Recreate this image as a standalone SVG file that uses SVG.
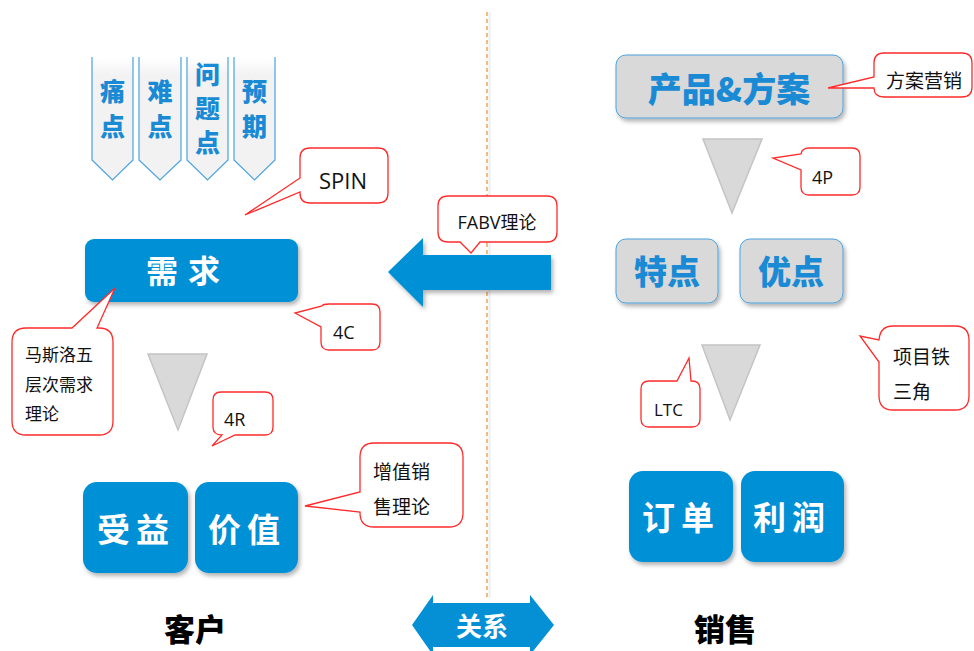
<svg xmlns="http://www.w3.org/2000/svg" width="974" height="651" viewBox="0 0 974 651">
<defs>
<filter id="sh" x="-10%" y="-10%" width="130%" height="140%"><feDropShadow dx="2" dy="3" stdDeviation="2" flood-color="#000" flood-opacity="0.3"/></filter>
<linearGradient id="tabg" x1="0" y1="0" x2="0" y2="1"><stop offset="0" stop-color="#fff"/><stop offset="0.15" stop-color="#f2f2f2"/><stop offset="1" stop-color="#f2f2f2"/></linearGradient>
</defs>
<style>
.tab{fill:url(#tabg)}
.tabl{fill:none;stroke:#4aa3df;stroke-width:1.2}
.tabt{font-family:"Noto Sans CJK SC",sans-serif;font-weight:900;font-size:25px;fill:#1a8ad4;text-anchor:middle}
.call{fill:#fff;stroke:#ff2a2a;stroke-width:1.3}
.ct{font-family:"Open Sans","Noto Sans CJK SC",sans-serif;font-size:18px;fill:#111}
.cc{font-family:"Noto Sans CJK SC",sans-serif;font-size:19px;fill:#111}
.blue{fill:#0590d6;filter:url(#sh)}
.gray{fill:#d9d9d9;stroke:#4aa3df;stroke-width:1;filter:url(#sh)}
.wt{font-family:"Noto Sans CJK SC",sans-serif;font-weight:bold;fill:#fff;text-anchor:middle}
.bt{font-family:"Noto Sans CJK SC",sans-serif;font-weight:900;fill:#1a8ad4;text-anchor:middle}
.tri{fill:#d9d9d9;stroke:#c4c4c4;stroke-width:1.5}
.kt{font-family:"Noto Sans CJK SC",sans-serif;font-weight:900;fill:#000;font-size:31px;text-anchor:middle}
</style>
<rect width="974" height="651" fill="#fff"/>

<g id="divider">
<line x1="489.5" y1="12" x2="489.5" y2="598" stroke="#eeeeee" stroke-width="2"/>
<line x1="487" y1="12" x2="487" y2="598" stroke="#f0963c" stroke-width="1.3" stroke-dasharray="4 3"/>
</g>

<g id="tabs">
<g id="tab1"><path class="tab" d="M92,57 H133 V160 L112.5,180 L92,160 Z"/><path class="tabl" d="M92,57 V160 L112.5,180 L133,160 V57"/><text class="tabt" x="112.5" y="101">痛</text><text class="tabt" x="112.5" y="136">点</text></g>
<g id="tab2"><path class="tab" d="M139,57 H181 V160 L160,180 L139,160 Z"/><path class="tabl" d="M139,57 V160 L160,180 L181,160 V57"/><text class="tabt" x="160" y="101">难</text><text class="tabt" x="160" y="136">点</text></g>
<g id="tab3"><path class="tab" d="M187,57 H228 V160 L207.5,180 L187,160 Z"/><path class="tabl" d="M187,57 V160 L207.5,180 L228,160 V57"/><text class="tabt" x="207.5" y="84">问</text><text class="tabt" x="207.5" y="118">题</text><text class="tabt" x="207.5" y="152">点</text></g>
<g id="tab4"><path class="tab" d="M234,57 H275 V160 L254.5,180 L234,160 Z"/><path class="tabl" d="M234,57 V160 L254.5,180 L275,160 V57"/><text class="tabt" x="254.5" y="101">预</text><text class="tabt" x="254.5" y="136">期</text></g>
</g>

<g id="connectors">
<path id="bigarrow" d="M388,272 L423,238 V255 H551 V290 H423 V307 Z" fill="#0590d6" filter="url(#sh)"/>
<polygon class="tri" points="148,354 207,354 178,430"/>
<polygon class="tri" points="703,139 762,139 732,213"/>
<polygon class="tri" points="702,345 760,345 730,420"/>
</g>

<g id="spin"><path class="call" d="M310,148 H378 Q388,148 388,158 V193 Q388,203 378,203 H310 Q300,203 300,193 V192 L245,215 L300,178 V158 Q300,148 310,148 Z"/><text class="ct" x="343" y="189" text-anchor="middle" style="font-size:22px">SPIN</text></g>

<g id="xuqiu"><rect class="blue" x="85" y="239" width="213" height="63" rx="9"/><text class="wt" x="188" y="283" font-size="32" letter-spacing="10">需求</text></g>

<g id="maslow"><path class="call" d="M26,328 H72 L115,288 L97,328 H99 Q113,328 113,342 V421 Q113,435 99,435 H26 Q12,435 12,421 V342 Q12,328 26,328 Z"/><text class="cc" x="25" y="361" style="font-size:17px">马斯洛五</text><text class="cc" x="25" y="391" style="font-size:17px">层次需求</text><text class="cc" x="25" y="420" style="font-size:17px">理论</text></g>

<g id="c4c"><path class="call" d="M329,304 H372 Q380,304 380,312 V342 Q380,350 372,350 H329 Q321,350 321,342 V327 L295,313 L322,306 Q323,304 329,304 Z"/><text class="ct" x="333" y="339">4C</text></g>

<g id="c4r"><path class="call" d="M221,392 H265 Q273,392 273,400 V427 Q273,435 265,435 H235 L212,446 L222,435 Q213,435 213,427 V400 Q213,392 221,392 Z"/><text class="ct" x="224" y="426">4R</text></g>

<g id="shouyi"><rect class="blue" x="83" y="482" width="105" height="91" rx="14"/><text class="wt" x="136" y="542" font-size="33" letter-spacing="6">受益</text></g>
<g id="jiazhi"><rect class="blue" x="195" y="482" width="103" height="91" rx="14"/><text class="wt" x="247" y="542" font-size="33" letter-spacing="6">价值</text></g>

<g id="zengzhi"><path class="call" d="M374,443 H449 Q463,443 463,457 V513 Q463,527 449,527 H374 Q360,527 360,513 V512 L305,506 L360,492 V457 Q360,443 374,443 Z"/><text class="cc" x="373" y="479">增值销</text><text class="cc" x="373" y="514">售理论</text></g>

<g id="kehu"><text class="kt" x="195" y="641">客户</text></g>

<g id="fabv"><path class="call" d="M448,196 H547 Q557,196 557,206 V232 Q557,242 547,242 H480 L471,253 L460,242 H448 Q438,242 438,232 V206 Q438,196 448,196 Z"/><text class="ct" x="497" y="229" text-anchor="middle">FABV理论</text></g>

<g id="guanxi"><path d="M412,625 L433,595 V603 H530 V595 L554,625 L530,655 V647 H433 V655 Z" fill="#0590d6"/><text class="wt" x="482" y="636" font-size="26">关系</text></g>

<g id="chanpin"><rect class="gray" x="616" y="55" width="227" height="63" rx="10"/><text class="bt" x="729" y="102" font-size="34">产品&amp;方案</text></g>

<g id="fangan"><path class="call" d="M884,53 H962 Q972,53 972,63 V87 Q972,97 962,97 H884 Q874,97 874,88 L828,88 L874,77 V63 Q874,53 884,53 Z"/><text class="cc" x="886" y="88">方案营销</text></g>

<g id="c4p"><path class="call" d="M809,148 H852 Q860,148 860,156 V187 Q860,195 852,195 H809 Q801,195 801,187 V170 L773,158 L801,154 Q802,148 809,148 Z"/><text class="ct" x="812" y="184">4P</text></g>

<g id="tedian"><rect class="gray" x="616" y="239" width="102" height="64" rx="10"/><text class="bt" x="667" y="284" font-size="33">特点</text></g>
<g id="youdian"><rect class="gray" x="740" y="239" width="103" height="64" rx="10"/><text class="bt" x="791" y="284" font-size="33">优点</text></g>

<g id="tiesanjiao"><path class="call" d="M893,326 H955 Q969,326 969,340 V396 Q969,410 955,410 H893 Q879,410 879,396 V362 L860,336 L879,340 Q880,326 893,326 Z"/><text class="cc" x="893" y="364">项目铁</text><text class="cc" x="893" y="399">三角</text></g>

<g id="ltc"><path class="call" d="M649,381 H677 L689,358 L691,381 H692 Q700,381 700,389 V419 Q700,427 692,427 H649 Q641,427 641,419 V389 Q641,381 649,381 Z"/><text class="ct" x="654" y="416" style="font-size:17px">LTC</text></g>

<g id="dingdan"><rect class="blue" x="629" y="471" width="104" height="91" rx="14"/><text class="wt" x="681" y="530" font-size="33" letter-spacing="6">订单</text></g>
<g id="lirun"><rect class="blue" x="741" y="471" width="103" height="91" rx="14"/><text class="wt" x="792" y="530" font-size="33" letter-spacing="6">利润</text></g>

<g id="xiaoshou"><text class="kt" x="725" y="641">销售</text></g>
</svg>
